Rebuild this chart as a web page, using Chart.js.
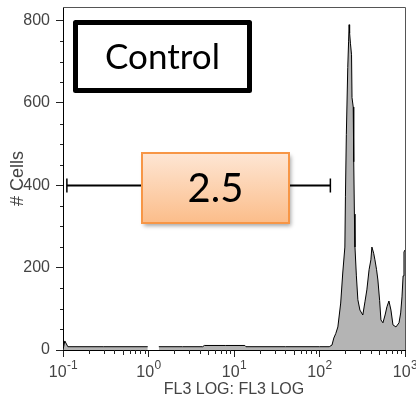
<!DOCTYPE html>
<html><head><meta charset="utf-8">
<script src="https://cdn.jsdelivr.net/npm/chart.js@4/dist/chart.umd.min.js"></script>
<style>html,body{margin:0;padding:0;background:#fff}#wrap{width:416px;height:400px}</style>
</head><body><div id="wrap"><canvas id="c" width="416" height="400"></canvas></div>
<script>
// FL3 intensity (log axis) and cell counts of the histogram
const fl3 = [0.1,0.105,0.114,0.3,0.98,1.1,1.32,2.5,4.3,4.5,8,13.4,13.8,40,100,130,140,147,155,164,177,187,198,201,206,214,219,222,225,230,237,240,248,250,253,256,260,270,281,297,321,340,358,380,399,410,430,445,465,482,505,523,552,585,615,649,685,723,784,851,890,922,950,973,1000];
const cells = [0,22,8,8,8,null,8,8,8,11,11,11,8,8,8,8,12,29,40,56,114,187,250,372,523,686,750,790,770,745,717,613,590,535,457,330,250,180,122,97,85,117,146,195,219,250,235,219,195,170,120,73,66,85,105,119,97,61,56,66,90,129,180,238,243];
const xTicks = [0.1,1,10,100,1000];
const xExponents = ['-1','0','1','2','3'];
const yTicks = [0,200,400,600,800];
const yMinorStep = 50;
const gateRange = [0.111,134];
const gateLevel = 400;
const gateLabel = '2.5';
const sampleLabel = 'Control';
const xTitle = 'FL3 LOG: FL3 LOG';
const yTitle = '# Cells';

const AX_FONT = 'Liberation Sans, Arial, sans-serif';
const TXT = '#444';

const deco = {
  id:'deco',
  afterDatasetsDraw(chart){
    const {ctx, chartArea:a, scales:{x,y}} = chart;
    ctx.save();
    // frame top/right
    ctx.strokeStyle='#555'; ctx.lineWidth=1;
    ctx.beginPath();
    ctx.moveTo(a.left, a.top+0.5); ctx.lineTo(a.right+0.5, a.top+0.5); ctx.lineTo(a.right+0.5, a.bottom);
    ctx.stroke();
    // minor ticks
    ctx.strokeStyle='#222';
    ctx.beginPath();
    for(let v=yMinorStep; v<=y.max; v+=yMinorStep){
      if(yTicks.includes(v)) continue;
      const py=Math.round(y.getPixelForValue(v))+0.5;
      ctx.moveTo(a.left-3,py); ctx.lineTo(a.left,py);
    }
    for(let i=0;i<xTicks.length-1;i++){
      for(let k=2;k<=9;k++){
        const px=Math.round(x.getPixelForValue(xTicks[i]*k))+0.5;
        ctx.moveTo(px,a.bottom); ctx.lineTo(px,a.bottom+(k===5?5:4));
      }
    }
    ctx.stroke();
    // x tick labels with superscripts
    ctx.fillStyle=TXT; ctx.textBaseline='alphabetic'; ctx.textAlign='left';
    xTicks.forEach((v,i)=>{
      const px=x.getPixelForValue(v);
      ctx.font='16px '+AX_FONT;
      const w1=ctx.measureText('10').width;
      ctx.font='12px '+AX_FONT;
      const w2=ctx.measureText(xExponents[i]).width;
      const sx=px-(w1+w2)/2;
      ctx.font='16px '+AX_FONT;
      ctx.fillText('10',sx,377);
      ctx.font='12px '+AX_FONT;
      ctx.fillText(xExponents[i],sx+w1+0.5,369);
    });
    // gate
    const gy=Math.round(y.getPixelForValue(gateLevel))+0.5;
    const gx1=x.getPixelForValue(gateRange[0]), gx2=x.getPixelForValue(gateRange[1]);
    ctx.strokeStyle='#000'; ctx.lineWidth=2;
    ctx.beginPath(); ctx.moveTo(gx1,gy); ctx.lineTo(gx2,gy); ctx.stroke();
    ctx.lineWidth=1.5;
    ctx.beginPath(); ctx.moveTo(gx1,gy-7); ctx.lineTo(gx1,gy+7); ctx.moveTo(gx2,gy-7); ctx.lineTo(gx2,gy+7); ctx.stroke();
    // gate value box
    const bx=a.left+79, by=a.top+146, bw=147, bh=70;
    ctx.save();
    ctx.shadowColor='rgba(0,0,0,0.35)'; ctx.shadowBlur=4; ctx.shadowOffsetX=2; ctx.shadowOffsetY=3;
    const g=ctx.createLinearGradient(0,by,0,by+bh);
    g.addColorStop(0,'#fee6d4'); g.addColorStop(1,'#fbbd8a');
    ctx.fillStyle=g; ctx.fillRect(bx,by,bw,bh);
    ctx.restore();
    ctx.strokeStyle='#f79646'; ctx.lineWidth=2; ctx.strokeRect(bx,by,bw,bh);
    ctx.fillStyle='#000'; ctx.font='40px Lato, "Open Sans", sans-serif';
    ctx.textAlign='center'; ctx.textBaseline='middle';
    ctx.fillText(gateLabel,bx+bw/2,by+bh/2+1);
    // sample label box
    const cx=a.left+12.5, cy=a.top+15.5, cw=174, ch=68;
    ctx.fillStyle='#fff'; ctx.fillRect(cx,cy,cw,ch);
    ctx.strokeStyle='#000'; ctx.lineWidth=5; ctx.lineJoin='round';
    ctx.strokeRect(cx,cy,cw,ch);
    ctx.fillStyle='#000'; ctx.font='35px Lato, "Open Sans", sans-serif';
    ctx.fillText(sampleLabel,cx+cw/2,cy+ch/2+1);
    ctx.restore();
  }
};

new Chart(document.getElementById('c'),{
  type:'line',
  data:{datasets:[{
    data:fl3.map((v,i)=>({x:v,y:cells[i]})),
    borderColor:'#000', borderWidth:1, backgroundColor:'#b4b4b4',
    fill:'origin', pointRadius:0, tension:0, spanGaps:false
  }]},
  options:{
    responsive:false, animation:false, devicePixelRatio:1,
    layout:{padding:{top:7,right:11,left:0,bottom:0}},
    plugins:{legend:{display:false},tooltip:{enabled:false}},
    scales:{
      x:{type:'logarithmic', min:0.1, max:1000,
        afterBuildTicks:s=>{s.ticks=xTicks.map(v=>({value:v}));},
        afterFit:s=>{s.height=50; s.paddingLeft=0; s.paddingRight=0;},
        ticks:{display:false},
        grid:{display:true, drawOnChartArea:false, drawTicks:true, tickLength:7, color:'#222'},
        border:{display:true, color:'#000', width:1},
        title:{display:true, text:xTitle, color:TXT, font:{family:AX_FONT,size:16}, padding:{top:0,bottom:1}}
      },
      y:{type:'linear', min:0, max:833,
        afterBuildTicks:s=>{s.ticks=yTicks.map(v=>({value:v}));},
        afterFit:s=>{s.width=63; s.paddingTop=0; s.paddingBottom=0;},
        ticks:{color:TXT, font:{family:AX_FONT,size:16}, padding:6},
        grid:{display:true, drawOnChartArea:false, drawTicks:true, tickLength:7, color:'#222'},
        border:{display:true, color:'#000', width:1},
        title:{display:true, text:yTitle, color:TXT, font:{family:AX_FONT,size:18}, padding:{top:7,bottom:0}}
      }
    }
  },
  plugins:[deco]
});
</script></body></html>
